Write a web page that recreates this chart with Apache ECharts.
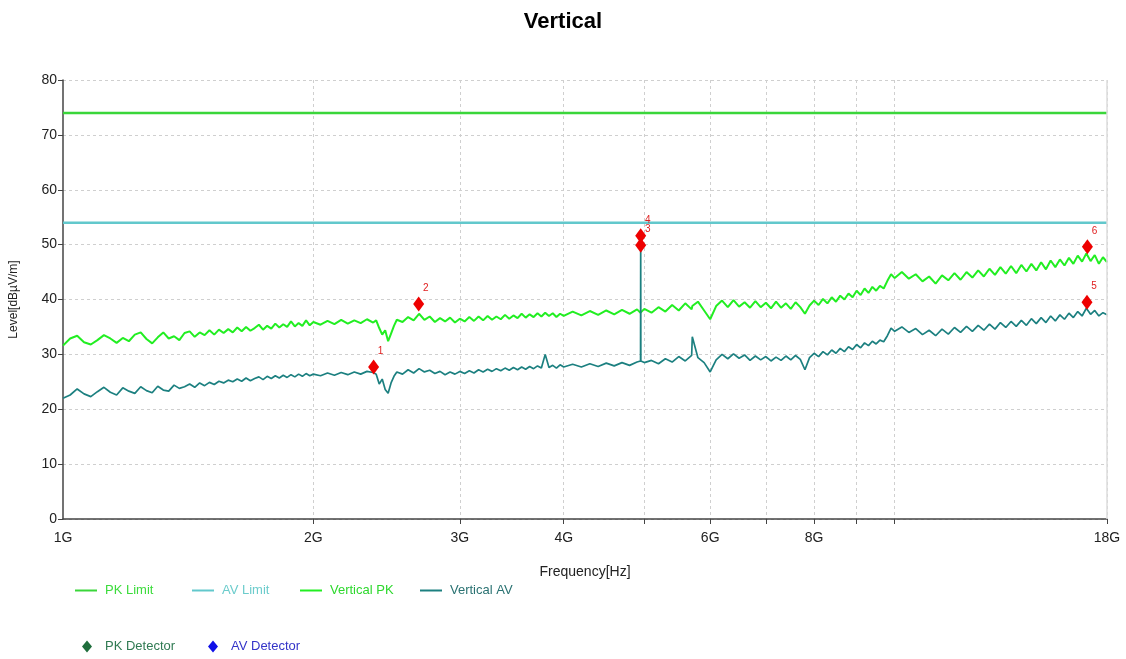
<!DOCTYPE html>
<html>
<head>
<meta charset="utf-8">
<script src="https://cdn.jsdelivr.net/npm/echarts@6/dist/echarts.min.js"></script>
<style>
  html, body { margin: 0; padding: 0; background: #fff; }
  #chart { width: 1126px; height: 659px; }
</style>
</head>
<body>
<div id="chart"></div>
<script>
// sweep frequencies in GHz
const freqs = [
  1.00, 1.02, 1.04, 1.06, 1.08, 1.10, 1.12, 1.14, 1.16, 1.18, 1.20, 1.22, 1.24, 1.26, 1.28, 1.30, 1.32, 1.34, 1.36, 1.38,
  1.40, 1.42, 1.44, 1.46, 1.48, 1.50, 1.52, 1.54, 1.56, 1.58, 1.60, 1.62, 1.64, 1.66, 1.68, 1.70, 1.72, 1.74, 1.76, 1.78,
  1.80, 1.82, 1.84, 1.86, 1.88, 1.90, 1.92, 1.94, 1.96, 1.98, 2.00,
  2.04, 2.08, 2.12, 2.16, 2.20, 2.24, 2.28, 2.32, 2.36, 2.38, 2.40, 2.42, 2.44, 2.46, 2.48, 2.50, 2.52, 2.56, 2.60, 2.64,
  2.68, 2.72, 2.76, 2.80, 2.84, 2.88, 2.92, 2.96, 3.00, 3.04, 3.08, 3.12, 3.16, 3.20, 3.24, 3.28, 3.32, 3.36, 3.40, 3.44,
  3.48, 3.52, 3.56, 3.60, 3.64, 3.68, 3.72, 3.76, 3.80, 3.84, 3.88, 3.92, 3.96, 4.00,
  4.1, 4.2, 4.3, 4.4, 4.5, 4.6, 4.7, 4.8, 4.9, 4.948, 4.95, 4.952, 5.0, 5.1, 5.2, 5.3, 5.4, 5.5, 5.6, 5.7,
  5.71, 5.8, 5.9, 6.0, 6.1, 6.2, 6.3, 6.4, 6.5, 6.6, 6.7, 6.8, 6.9, 7.0, 7.1, 7.2, 7.3, 7.4, 7.5, 7.6,
  7.7, 7.8, 7.9, 8.0, 8.1, 8.2, 8.3, 8.4, 8.5, 8.6, 8.7, 8.8, 8.9, 9.0, 9.1, 9.2, 9.3, 9.4, 9.5, 9.6,
  9.7, 9.8, 9.9, 10.0,
  10.2, 10.4, 10.6, 10.8, 11.0, 11.2, 11.4, 11.6, 11.8, 12.0, 12.2, 12.4, 12.6, 12.8, 13.0, 13.2, 13.4, 13.6, 13.8, 14.0,
  14.2, 14.4, 14.6, 14.8, 15.0, 15.2, 15.4, 15.6, 15.8, 16.0, 16.2, 16.4, 16.6, 16.8, 17.0, 17.2, 17.4, 17.6, 17.8, 18.0
];

// Vertical PK trace, dBuV/m
const pkLevels = [
  31.6, 32.9, 33.4, 32.2, 31.8, 32.6, 33.5, 32.9, 32.1, 33.0, 32.4, 33.6, 34.0, 32.8, 32.0, 33.1, 34.0, 32.9, 33.3, 32.6,
  33.9, 34.2, 33.2, 34.0, 33.5, 34.4, 33.6, 34.5, 33.9, 34.6, 34.0, 34.9, 34.2, 35.0, 34.3, 34.8, 35.4, 34.5, 35.2, 34.7,
  35.6, 34.9, 35.5, 35.0, 36.0, 35.1, 35.7, 35.2, 36.2, 35.3, 35.9,
  35.4, 36.1, 35.5, 36.3, 35.6, 36.2, 35.7, 36.4, 35.8, 36.2, 34.8, 33.6, 34.4, 32.4, 33.8, 35.2, 36.3, 35.9, 36.8, 36.2,
  37.4, 36.3, 36.9, 35.9, 36.6, 36.0, 36.7, 35.8, 36.5, 36.0, 36.8, 36.1, 36.9, 36.2, 37.0, 36.3, 36.9, 36.4, 37.2, 36.5,
  37.1, 36.6, 37.4, 36.7, 37.3, 36.8, 37.5, 36.9, 37.6, 37.0, 37.5, 36.8, 37.4, 37.0,
  37.8, 37.1, 37.9, 37.2, 38.0, 37.3, 38.1, 37.4, 38.2, 37.6, 37.8, 37.9, 38.3, 37.6, 38.6, 37.8, 39.0, 38.0, 39.3, 38.2,
  38.8, 39.6, 38.0, 36.4, 38.8, 39.8, 38.6, 39.9, 38.7, 39.5, 38.5, 39.7, 38.6, 39.4, 38.4, 39.6, 38.5, 39.3, 38.3, 39.5,
  38.6, 37.4, 38.9, 39.8, 39.0, 40.1, 39.3, 40.4, 39.6, 40.7, 40.0, 41.1, 40.4, 41.6, 40.8, 42.0, 41.2, 42.3, 41.6, 42.5,
  42.0, 43.4, 44.6, 43.9,
  45.0, 43.8, 44.6, 43.3, 44.2, 42.9, 44.4, 43.5, 44.8, 43.6, 45.0, 44.0, 45.3, 44.2, 45.6, 44.5, 45.9, 44.7, 46.1, 44.8,
  46.3, 45.1, 46.5, 45.3, 46.8, 45.5, 47.1, 45.9, 47.3, 46.2, 47.6, 46.5, 48.0, 46.9, 48.4, 47.0, 48.1, 46.5, 47.7, 46.8
];

// Vertical AV trace, dBuV/m
const avLevels = [
  22.0, 22.6, 23.7, 22.8, 22.3, 23.2, 24.0, 23.1, 22.6, 23.9, 23.3, 22.9, 24.1, 23.4, 23.0, 24.2, 23.5, 23.3, 24.4, 23.8,
  24.1, 24.6, 24.0, 24.8, 24.3, 24.9, 24.5, 25.1, 24.8, 25.3, 25.0, 25.5, 25.1, 25.7, 25.2, 25.6, 25.9, 25.4, 26.0, 25.6,
  26.1, 25.7, 26.2, 25.8, 26.3, 25.9, 26.4, 26.0, 26.5, 26.1, 26.4,
  26.1, 26.6, 26.2, 26.7, 26.3, 26.8, 26.4, 26.9, 26.7, 26.4, 24.6, 25.5, 23.6, 22.9, 24.8, 26.0, 26.8, 26.4, 27.2, 26.6,
  27.4, 26.8, 27.1, 26.5, 26.9, 26.3, 26.8, 26.4, 26.9, 26.5, 27.0, 26.6, 27.2, 26.8, 27.3, 26.9, 27.4, 27.0, 27.5, 27.1,
  27.6, 27.2, 27.7, 27.3, 27.8, 27.4, 27.9, 27.5, 30.0, 27.6, 28.0, 27.5, 28.1, 27.7,
  28.2, 27.7, 28.3, 27.8, 28.4, 27.9, 28.5, 28.0, 28.6, 28.8, 50.0, 28.8, 28.5, 28.9, 28.3, 29.2, 28.6, 29.6, 28.8, 29.8,
  33.2, 29.4, 28.5, 26.8, 29.0, 30.0, 29.2, 30.1, 29.3, 29.9, 28.9, 29.7, 29.0, 29.6, 28.8, 29.5, 28.9, 29.7, 29.0, 29.8,
  29.1, 27.2, 29.4, 30.2, 29.6, 30.5, 29.9, 30.8, 30.2, 31.1, 30.5, 31.4, 30.9, 31.8, 31.2, 32.1, 31.6, 32.4, 31.9, 32.6,
  32.3, 33.4, 34.8, 34.2,
  35.0, 34.0, 34.7, 33.6, 34.4, 33.4, 34.6, 33.7, 34.9, 34.0, 35.1, 34.2, 35.3, 34.4, 35.5, 34.6, 35.8, 34.9, 36.0, 35.1,
  36.2, 35.3, 36.5, 35.6, 36.7, 35.8, 37.0, 36.1, 37.2, 36.4, 37.5, 36.7, 37.8, 37.0, 38.4, 37.3, 38.0, 37.0, 37.6, 37.2
];

const pkLimit = 74;
const avLimit = 54;

// final measurement markers
const markerFreqs = [2.363, 2.677, 4.95, 4.95, 17.03, 17.05];
const markerLevels = [27.7, 39.2, 49.9, 51.6, 39.5, 49.6];
const markerLabels = ['1', '2', '3', '4', '5', '6'];

const xTicks = [2, 3, 4, 5, 6, 7, 8, 9, 10, 18];
const xLabels = [1, 2, 3, 4, 6, 8, 18];

const FONT = '"Liberation Sans", Arial, sans-serif';

const chart = echarts.init(document.getElementById('chart'), null, { renderer: 'canvas' });

const pair = (xs, ys) => xs.map((x, i) => [x, ys[i]]);

const legendItem = (name, left, top, color, icon) => ({
  left, top,
  padding: 0,
  data: [name],
  icon: icon || 'rect',
  itemWidth: icon ? 10 : 22,
  itemHeight: icon ? 12 : 2,
  itemGap: 0,
  textStyle: { color, fontFamily: FONT, fontSize: 13, padding: [0, 0, 0, icon ? 8 : 3] }
});

chart.setOption({
  animation: false,
  title: {
    text: 'Vertical',
    left: 'center',
    top: 6,
    textStyle: { fontFamily: FONT, fontSize: 22, fontWeight: 'bold', color: '#000' }
  },
  legend: [
    legendItem('PK Limit', 75, 584, '#3cdc3c'),
    legendItem('AV Limit', 192, 584, '#6ccccc'),
    legendItem('Vertical PK', 300, 584, '#2ed82e'),
    legendItem('Vertical AV', 420, 584, '#2a7272'),
    legendItem('PK Detector', 82, 640, '#2f7a52', 'diamond'),
    legendItem('AV Detector', 208, 640, '#3434c8', 'diamond')
  ],
  grid: { left: 62, right: 19, top: 80, bottom: 140 },
  xAxis: {
    type: 'log',
    logBase: 10,
    min: 1,
    max: 18,
    name: 'Frequency[Hz]',
    nameLocation: 'middle',
    nameGap: 46,
    nameTextStyle: { fontFamily: FONT, fontSize: 14, color: '#222' },
    axisLine: { lineStyle: { color: '#444', width: 1.5 } },
    axisTick: { show: true, length: 5, lineStyle: { color: '#444' }, customValues: xTicks },
    axisLabel: {
      customValues: xLabels,
      formatter: v => v + 'G',
      fontFamily: FONT, fontSize: 14, color: '#222', margin: 12
    },
    splitLine: { show: true, lineStyle: { color: '#cfcfcf', type: [3, 3] } }
  },
  yAxis: {
    type: 'value',
    min: 0,
    max: 80,
    interval: 10,
    name: 'Level[dBµV/m]',
    nameLocation: 'middle',
    nameGap: 43,
    nameRotate: 90,
    nameTextStyle: { fontFamily: FONT, fontSize: 12, color: '#222' },
    axisLine: { show: true, lineStyle: { color: '#444', width: 1.5 } },
    axisTick: { show: true, length: 5, lineStyle: { color: '#444' } },
    axisLabel: { fontFamily: FONT, fontSize: 14, color: '#222', margin: 6 },
    splitLine: { show: true, lineStyle: { color: '#cfcfcf', type: [3, 3] } }
  },
  series: [
    {
      name: 'PK Limit', type: 'line', showSymbol: false, symbol: 'none',
      data: [[1, pkLimit], [18, pkLimit]],
      lineStyle: { color: '#3ad63a', width: 2.5 }, itemStyle: { color: '#3ad63a' }, z: 3,
      markLine: {
        silent: true, symbol: 'none', label: { show: false },
        lineStyle: { color: '#dcdcdc', type: 'solid', width: 1.5 },
        data: [{ xAxis: 18 }]
      }
    },
    {
      name: 'AV Limit', type: 'line', showSymbol: false, symbol: 'none',
      data: [[1, avLimit], [18, avLimit]],
      lineStyle: { color: '#62c8cc', width: 2.5 }, itemStyle: { color: '#62c8cc' }, z: 3
    },
    {
      name: 'Vertical PK', type: 'line', showSymbol: false, symbol: 'none',
      data: pair(freqs, pkLevels),
      lineStyle: { color: '#22ee22', width: 2 }, itemStyle: { color: '#22ee22' }, z: 4
    },
    {
      name: 'Vertical AV', type: 'line', showSymbol: false, symbol: 'none',
      data: pair(freqs, avLevels),
      lineStyle: { color: '#1c8080', width: 1.7 }, itemStyle: { color: '#1c8080' }, z: 4
    },
    { name: 'PK Detector', type: 'scatter', data: [], itemStyle: { color: '#1f6e3c', opacity: 1 } },
    { name: 'AV Detector', type: 'scatter', data: [], itemStyle: { color: '#1010e8', opacity: 1 } },
    {
      name: 'Markers', type: 'scatter', symbol: 'diamond', symbolSize: [11, 15],
      data: markerFreqs.map((f, i) => ({ value: [f, markerLevels[i]], label: { formatter: markerLabels[i] } })),
      itemStyle: { color: '#ee0000', opacity: 1 },
      label: { show: true, position: 'top', distance: 3, offset: [7, 0], color: '#e02020', fontSize: 10, fontFamily: FONT },
      z: 6
    }
  ]
});
</script>
</body>
</html>
